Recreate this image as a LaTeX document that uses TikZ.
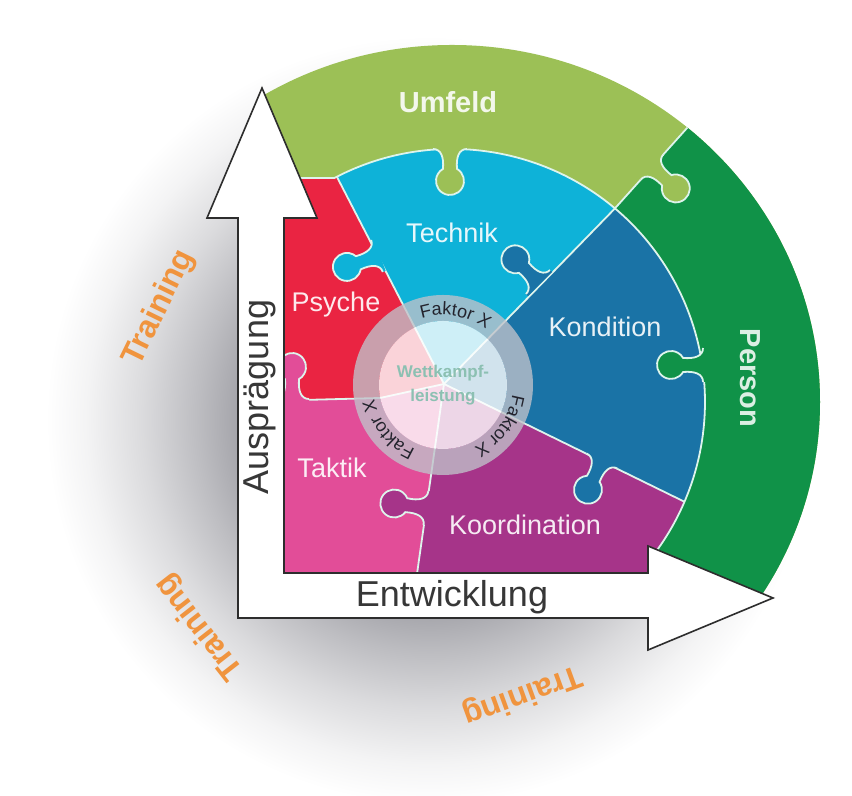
\documentclass[tikz,border=0pt]{standalone}
\usepackage{fontspec}
\setmainfont{Liberation Sans}
\usetikzlibrary{calc,decorations.text}

\definecolor{umfeld}{RGB}{156,192,86}
\definecolor{person}{RGB}{16,146,72}
\definecolor{technik}{RGB}{14,178,216}
\definecolor{kondition}{RGB}{26,115,166}
\definecolor{psyche}{RGB}{234,36,66}
\definecolor{taktik}{RGB}{226,77,152}
\definecolor{koordination}{RGB}{166,52,137}
\definecolor{seamcol}{RGB}{222,244,236}
\definecolor{ringgray}{RGB}{192,194,202}
\definecolor{axisline}{RGB}{45,45,45}
\definecolor{axistext}{RGB}{55,55,55}
\definecolor{trainingorange}{RGB}{240,148,62}
\definecolor{faktorcol}{RGB}{35,35,45}
\definecolor{wktext}{RGB}{140,192,178}
\definecolor{shadowgray}{RGB}{160,160,166}
\colorlet{shadeA}{shadowgray!70!white}
\colorlet{shadeB}{shadowgray!38!white}
\colorlet{shadeC}{shadowgray!12!white}

% the middle 50bp of the shading is fitted to the circle
\pgfdeclareradialshading{diskshadow}{\pgfpoint{0bp}{0bp}}{%
  color(0bp)=(shadowgray); color(11.5bp)=(shadowgray); color(14.5bp)=(shadeA);
  color(18bp)=(shadeB); color(21.5bp)=(shadeC); color(24bp)=(white); color(50bp)=(white)}

\newcommand\faktorfont{\fontsize{9}{10}\selectfont}

\tikzset{
  seam/.style={draw=seamcol, line width=0.9pt},
  piece label/.style={font=\fontsize{13.5}{16}\selectfont},
  ring label/.style={font=\bfseries\fontsize{14.5}{17}\selectfont},
  axis label/.style={font=\fontsize{18}{21}\selectfont, text=axistext},
  training/.style={font=\bfseries\fontsize{16}{19}\selectfont, text=trainingorange},
  faktor/.style={decorate, decoration={text along path, text={|\faktorfont|Faktor X},
      text align=center, text color=faktorcol}},
  pics/knob/.style={code={
    \fill[#1] (-17,-3) -- (-17,0) .. controls (-9,0) and (-6,8) .. (-7,19.9)
      arc[start angle=239.9, end angle=-59.9, radius=14]
      .. controls (6,8) and (9,0) .. (17,0) -- (17,-3) -- cycle;
    \draw[seam] (-17,0) .. controls (-9,0) and (-6,8) .. (-7,19.9)
      arc[start angle=239.9, end angle=-59.9, radius=14]
      .. controls (6,8) and (9,0) .. (17,0);
  }}
}

\begin{document}
\begin{tikzpicture}[x=0.5pt,y=0.5pt]
\useasboundingbox (0,0) rectangle (852,796);
\fill[white] (0,0) rectangle (852,796);

% shadow
\begin{scope}
  \clip (0,0) rectangle (852,796);
  \shade[shading=diskshadow] (430,376) circle (400);
\end{scope}

% outer ring: Umfeld / Person
\begin{scope}
  \clip (234,773) -- (900,800) -- (900,145) -- (773,198) -- (648,250) -- (392,400) -- cycle;
  \clip (452,394) ellipse [x radius=368, y radius=357];
  \fill[umfeld] (0,0) rectangle (852,796);
  \fill[person] (592,562) -- (740,727) -- (900,800) -- (900,100) -- (592,100) -- cycle;
  \draw[seam] (592,562) -- (740,727);
  \pic[rotate=-132] at (652,629) {knob=umfeld};
\end{scope}

% inner puzzle
\begin{scope}
  \clip (284,223) -- (284,618) -- (334.4,618) arc[start angle=117.7, end angle=-38.5, radius=253] -- (650,223) -- cycle;
  \fill[technik] (200,100) rectangle (800,700);
  \fill[kondition] (444,412) -- (780,758) -- (930,758) -- (930,174) -- cycle;
  \fill[koordination] (444,412) -- (930,174) -- (930,120) -- (403,130) -- cycle;
  \fill[taktik] (444,412) -- (403,130) -- (200,130) -- (200,396) -- (303,396) -- (380,398) -- cycle;
  \fill[psyche] (444,412) -- (380,398) -- (303,396) -- (200,396) -- (200,788) -- (250,788) -- cycle;

  \draw[seam] (444,412) -- (329.5,633.5);
  \draw[seam] (444,412) -- (629,602);
  \draw[seam] (444,412) -- (736,269);
  \draw[seam] (444,412) -- (414,201);
  \draw[seam] (444,412) -- (380,398) -- (303,396) -- (260,396);

  \pic[rotate=110] at (377,540) {knob=technik};
  \pic[rotate=45] at (538,514) {knob=kondition};
  \pic[rotate=154] at (602,335) {knob=kondition};
  \pic[rotate=82] at (426,288) {knob=koordination};
  \pic at (292,397) {knob=taktik};
\end{scope}
\draw[seam] (284,618) -- (334.4,618) arc[start angle=117.7, end angle=-38.5, radius=253];
\pic[rotate=180] at (450,647) {knob=umfeld};
\pic[rotate=90] at (703,431) {knob=person};

% Wettkampfleistung
\coordinate (wk) at (443,411);
\fill[ringgray, opacity=0.78, even odd rule] (wk) circle (90) (wk) circle (64);
\fill[white, opacity=0.8] (wk) circle (64);
\node[font=\bfseries\fontsize{8.5}{12}\selectfont, text=wktext, align=center] (wkl) at (wk) {Wettkampf-\\leistung};
\path[faktor] ($(wk)+(125:70)$) arc[start angle=125, end angle=35, radius=70];
\path[faktor] ($(wk)+(9:70)$) arc[start angle=9, end angle=-81, radius=70];
\path[faktor] ($(wk)+(264:70)$) arc[start angle=264, end angle=174, radius=70];

% axes
\draw[draw=axisline, line width=0.8pt, fill=white] (238,178) -- (238,578) -- (207,578) -- (262,708) -- (317,578)
  -- (284,578) -- (284,223) -- (648,223) -- (648,250) -- (773,198) -- (648,146) -- (648,178) -- cycle;

\node[axis label, rotate=90] (auspr) at (260,399) {Ausprägung};
\node[axis label] (entw) at (452,199) {Entwicklung};

\node[ring label, text=umfeld!12!white] (umf) at (448,694) {Umfeld};
\node[ring label, text=person!15!white, rotate=-90] (pers) at (750,418) {Person};
\node[piece label, text=technik!10!white] (tech) at (452,563) {Technik};
\node[piece label, text=psyche!10!white] (psy) at (336,491) {Psyche};
\node[piece label, text=kondition!10!white] (kond) at (605,469) {Kondition};
\node[piece label, text=taktik!10!white] (takt) at (332,328) {Taktik};
\node[piece label, text=koordination!10!white] (koord) at (525,271) {Koordination};

\node[training, rotate=64] (train1) at (159,488) {Training};
\node[training, rotate=128] (train2) at (200,169) {Training};
\node[training, rotate=200] (train3) at (522,101) {Training};
\end{tikzpicture}
\end{document}
